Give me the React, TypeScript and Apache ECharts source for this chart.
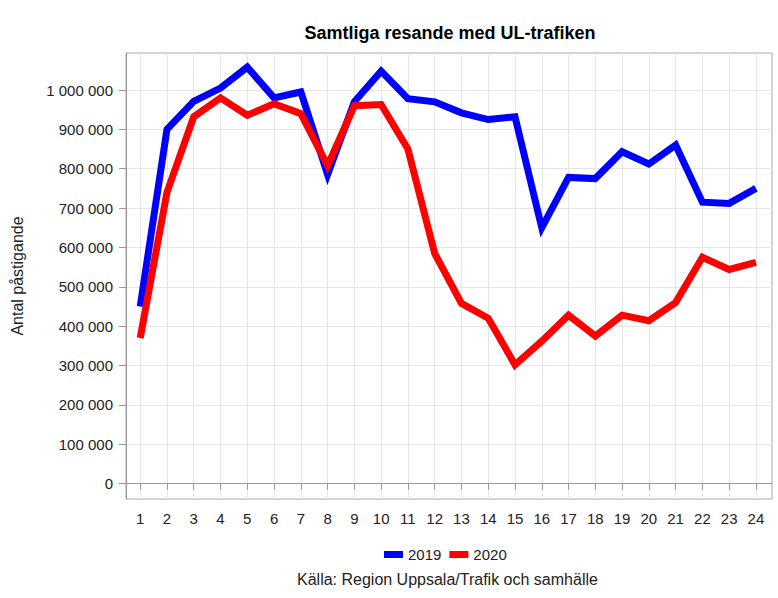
import React, { useEffect, useRef } from "react";
import * as echarts from "echarts";

const weeks = [1, 2, 3, 4, 5, 6, 7, 8, 9, 10, 11, 12, 13, 14, 15, 16, 17, 18, 19, 20, 21, 22, 23, 24];
const values2019 = [450000, 900000, 971000, 1005000, 1058000, 980000, 995000, 785000, 970000, 1048000, 978000, 970000, 942000, 925000, 932000, 650000, 778000, 775000, 843000, 812000, 860000, 715000, 712000, 750000];
const values2020 = [370000, 740000, 932000, 980000, 936000, 965000, 940000, 808000, 960000, 963000, 850000, 585000, 458000, 420000, 302000, 362000, 428000, 375000, 428000, 414000, 460000, 575000, 544000, 562000];
const yTicks = [0, 100000, 200000, 300000, 400000, 500000, 600000, 700000, 800000, 900000, 1000000];

const fmt = (v: number) => String(Math.round(v)).replace(/\B(?=(\d{3})+(?!\d))/g, " ");

export default function App() {
  const ref = useRef<HTMLDivElement>(null);
  useEffect(() => {
    if (!ref.current) return;
    const chart = echarts.init(ref.current, null, { renderer: "svg" });
    const font = "'Liberation Sans', Arial, sans-serif";
    chart.setOption({
      animation: false,
      textStyle: { fontFamily: font },
      title: {
        text: "Samtliga resande med UL-trafiken",
        left: 445,
        top: 19,
        textAlign: "center",
        textStyle: { fontSize: 18, fontWeight: "bold", color: "#000", fontFamily: font },
      },
      legend: {
        bottom: 31,
        left: 379,
        itemWidth: 19,
        itemHeight: 7,
        itemGap: 8,
        icon: "rect",
        textStyle: { fontSize: 15, color: "#222", fontFamily: font },
        data: ["2019", "2020"],
      },
      graphic: [
        {
          type: "text",
          left: 297,
          top: 571,
          style: { text: "Källa: Region Uppsala/Trafik och samhälle", fontSize: 16, fill: "#222", fontFamily: font },
        },
      ],
      grid: {
        left: 126,
        right: 6,
        top: 53,
        bottom: 99,
        show: true,
        borderColor: "#a8a8a8",
        borderWidth: 1,
        containLabel: false,
      },
      xAxis: {
        type: "value",
        min: 0.47,
        max: 24.6,
        axisLine: { show: true, lineStyle: { color: "#999" } },
        axisTick: { show: true, length: 6, customValues: weeks, lineStyle: { color: "#999" } },
        axisLabel: {
          customValues: weeks,
          fontSize: 15,
          color: "#222",
          margin: 12,
          fontFamily: font,
        },
        splitLine: { show: true, lineStyle: { color: "#e6e6e6", width: 1 } },
      },
      yAxis: {
        type: "value",
        min: -39000,
        max: 1094000,
        name: "Antal påstigande",
        nameLocation: "middle",
        nameGap: 101,
        nameTextStyle: { fontSize: 16, color: "#222", fontFamily: font },
        axisLine: { show: true, lineStyle: { color: "#999" } },
        axisTick: { show: true, length: 7, customValues: yTicks, lineStyle: { color: "#999" } },
        axisLabel: {
          customValues: yTicks,
          fontSize: 15,
          color: "#222",
          margin: 13,
          fontFamily: font,
          formatter: (v: number) => fmt(v),
        },
        splitLine: { show: true, lineStyle: { color: "#e6e6e6", width: 1 } },
      },
      series: [
        {
          name: "2019",
          type: "line",
          data: weeks.map((w, i) => [w, values2019[i]]),
          symbol: "none",
          color: "#0000ff",
          lineStyle: { width: 7, color: "#0000ff", join: "miter", cap: "butt" },
        },
        {
          name: "2020",
          type: "line",
          data: weeks.map((w, i) => [w, values2020[i]]),
          symbol: "none",
          color: "#ff0000",
          lineStyle: { width: 7, color: "#ff0000", join: "miter", cap: "butt" },
        },
      ],
    });
    return () => chart.dispose();
  }, []);
  return <div ref={ref} style={{ position: "absolute", left: 0, top: 0, width: 778, height: 598 }} />;
}
